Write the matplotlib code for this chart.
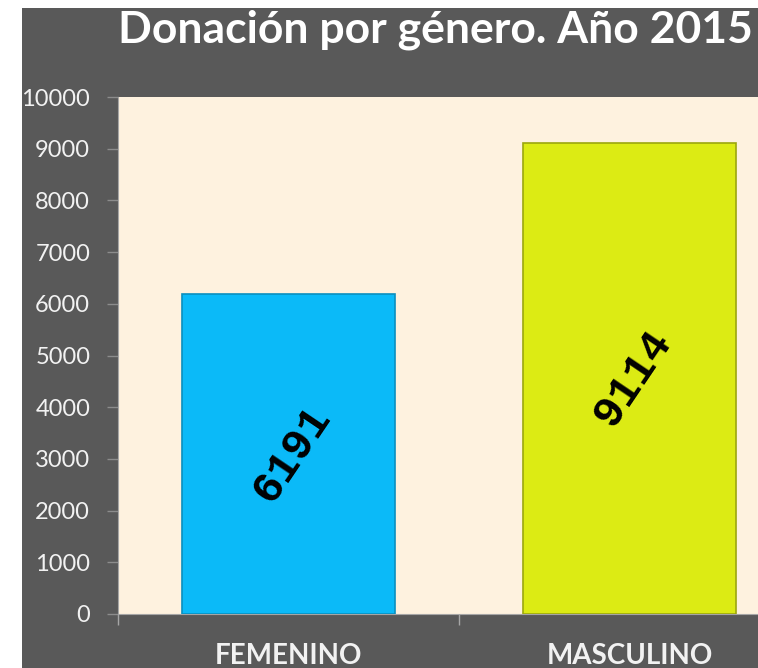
import matplotlib
matplotlib.use("Agg")
import matplotlib.pyplot as plt
from matplotlib.patches import Rectangle

categorias = ["FEMENINO", "MASCULINO"]
donaciones = [6191, 9114]
colores = ["#0BBAF8", "#DCEB14"]
bordes = ["#0A8FBF", "#9CA70E"]
yticks = [0, 1000, 2000, 3000, 4000, 5000, 6000, 7000, 8000, 9000, 10000]
titulo = "Donación por género. Año 2015"

fig = plt.figure(figsize=(7.58, 6.68), dpi=100)
fig.patch.set_facecolor("white")
# fondo gris oscuro (deja una franja blanca arriba y a la izquierda)
fig.add_artist(Rectangle((22 / 758, 0), 1, 1 - 8 / 668, transform=fig.transFigure,
                         facecolor="#595959", edgecolor="none", zorder=-5))

ax = fig.add_axes([118 / 758, 54 / 668, 682 / 758, 517 / 668])
ax.set_facecolor("#FEF2DF")

x = list(range(len(categorias)))
barras = ax.bar(x, donaciones, width=0.625, color=colores, edgecolor=bordes, linewidth=1.2, zorder=3)

for xi, v in zip(x, donaciones):
    ax.text(xi + 0.01, v / 2, str(v), rotation=56, ha="center", va="center",
            fontsize=32, fontweight="bold", family="Liberation Mono", color="black", zorder=4)

ax.set_xlim(-0.5, 1.5)
ax.set_ylim(0, 10000)
ax.set_yticks(yticks)
ax.set_yticklabels([str(t) for t in yticks], fontsize=17, family="Lato", color="#F2F2F2")
ax.tick_params(axis="y", length=8, width=1, color="#8C8C8C", pad=12)

ax.set_xticks([-0.5, 0.5, 1.5])
ax.set_xticklabels(["", "", ""])
ax.tick_params(axis="x", which="major", length=8, width=1, color="#A6A6A6")
ax.set_xticks(x, minor=True)
ax.set_xticklabels(categorias, minor=True, fontsize=20, fontweight="bold", family="Lato", color="#F2F2F2")
ax.tick_params(axis="x", which="minor", length=0, pad=21)

for s in ["top", "right"]:
    ax.spines[s].set_visible(False)
ax.spines["left"].set_color("#A6A6A6")
ax.spines["bottom"].set_color("#A6A6A6")

fig.text(118 / 758, 1 - 42 / 668, titulo, ha="left", va="baseline", fontsize=32,
         fontweight="bold", family="Lato", color="white")

fig.savefig("out.png", dpi=100, facecolor=fig.get_facecolor())
